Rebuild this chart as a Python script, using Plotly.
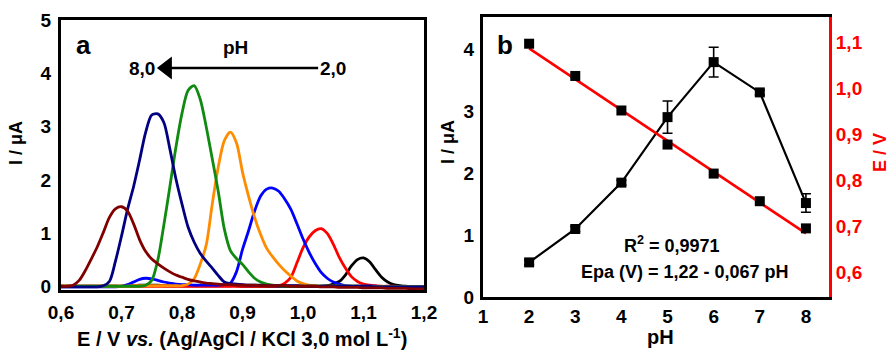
import plotly.graph_objects as go

# ---------------- Panel a: DPV curves ----------------
E_V = [0.60, 0.61, 0.62, 0.63, 0.64, 0.65, 0.66, 0.67, 0.68, 0.69,
       0.70, 0.71, 0.72, 0.73, 0.74, 0.75, 0.76, 0.77, 0.78, 0.79,
       0.80, 0.81, 0.82, 0.83, 0.84, 0.85, 0.86, 0.87, 0.88, 0.89,
       0.90, 0.91, 0.92, 0.93, 0.94, 0.95, 0.96, 0.97, 0.98, 0.99,
       1.00, 1.01, 1.02, 1.03, 1.04, 1.05, 1.06, 1.07, 1.08, 1.09,
       1.10, 1.11, 1.12, 1.13, 1.14, 1.15, 1.16, 1.17, 1.18, 1.19, 1.20]

I_pH2 = [0.01, 0.01, 0.01, 0.01, 0.01, 0.01, 0.01, 0.01, 0.01, 0.01,
         0.01, 0.02, 0.02, 0.03, 0.03, 0.03, 0.03, 0.02, 0.02, 0.02,
         0.02, 0.02, 0.02, 0.02, 0.02, 0.02, 0.02, 0.02, 0.02, 0.02,
         0.01, 0.01, 0.01, 0.01, 0.01, 0.01, 0.01, 0.01, 0.01, 0.01,
         0.01, 0.01, 0.01, 0.01, 0.02, 0.05, 0.10, 0.22, 0.39, 0.51,
         0.54, 0.47, 0.32, 0.18, 0.09, 0.04, 0.02, 0.01, 0.00, 0.00, 0.00]

I_pH3 = [0.01, 0.01, 0.01, 0.01, 0.01, 0.01, 0.01, 0.01, 0.01, 0.01,
         0.01, 0.01, 0.01, 0.01, 0.01, 0.01, 0.01, 0.01, 0.01, 0.01,
         0.01, 0.01, 0.01, 0.01, 0.01, 0.01, 0.01, 0.01, 0.01, 0.01,
         0.01, 0.01, 0.01, 0.01, 0.01, 0.01, 0.02, 0.07, 0.18, 0.45,
         0.73, 0.93, 1.05, 1.09, 1.00, 0.80, 0.55, 0.35, 0.19, 0.10,
         0.05, 0.03, 0.02, 0.01, 0.01, 0.01, 0.00, 0.00, 0.00, 0.00, 0.00]

I_pH4 = [0.00, 0.00, 0.00, 0.00, 0.00, 0.00, 0.00, 0.00, 0.00, 0.00,
         0.01, 0.04, 0.09, 0.14, 0.16, 0.15, 0.12, 0.09, 0.07, 0.05,
         0.04, 0.04, 0.03, 0.03, 0.03, 0.03, 0.03, 0.04, 0.07, 0.28,
         0.70, 1.05, 1.42, 1.70, 1.83, 1.85, 1.79, 1.64, 1.45, 1.18,
         0.90, 0.65, 0.44, 0.27, 0.16, 0.09, 0.05, 0.02, 0.01, 0.01,
         0.01, 0.01, 0.01, 0.00, 0.00, 0.00, 0.00, 0.00, 0.00, 0.00, 0.00]

I_pH5 = [0.01, 0.01, 0.01, 0.01, 0.01, 0.01, 0.01, 0.01, 0.01, 0.01,
         0.01, 0.01, 0.02, 0.02, 0.02, 0.02, 0.02, 0.02, 0.02, 0.02,
         0.02, 0.05, 0.15, 0.42, 0.78, 1.55, 2.25, 2.74, 2.90, 2.70,
         2.15, 1.70, 1.30, 0.98, 0.72, 0.56, 0.42, 0.30, 0.20, 0.11,
         0.06, 0.03, 0.02, 0.01, 0.01, 0.01, 0.01, 0.01, 0.01, 0.01,
         0.01, 0.00, 0.00, 0.00, 0.00, 0.00, 0.00, 0.00, 0.00, 0.00, 0.00]

I_pH6 = [0.01, 0.01, 0.01, 0.01, 0.01, 0.01, 0.01, 0.01, 0.01, 0.01,
         0.01, 0.01, 0.01, 0.01, 0.03, 0.12, 0.50, 1.16, 1.88, 2.62,
         3.25, 3.68, 3.77, 3.52, 3.00, 2.40, 1.78, 1.08, 0.68, 0.53,
         0.42, 0.28, 0.16, 0.09, 0.05, 0.03, 0.02, 0.01, 0.01, 0.01,
         0.01, 0.01, 0.01, 0.01, 0.01, 0.01, 0.01, 0.01, 0.01, 0.01,
         0.00, 0.00, 0.00, 0.00, 0.00, 0.00, 0.00, 0.00, 0.00, 0.00, 0.00]

I_pH7 = [0.00, 0.00, 0.00, 0.00, 0.00, 0.00, 0.00, 0.02, 0.10, 0.48,
         0.95, 1.45, 1.88, 2.38, 2.90, 3.22, 3.24, 3.08, 2.58, 2.02,
         1.55, 1.12, 0.84, 0.63, 0.48, 0.35, 0.21, 0.09, 0.06, 0.05,
         0.04, 0.03, 0.03, 0.03, 0.02, 0.02, 0.02, 0.02, 0.02, 0.02,
         0.01, 0.01, 0.01, 0.01, 0.01, 0.01, 0.01, 0.01, 0.01, 0.01,
         0.01, 0.01, 0.00, 0.00, 0.00, 0.00, 0.00, 0.00, 0.00, 0.00, 0.00]

I_pH8 = [0.01, 0.01, 0.03, 0.12, 0.30, 0.52, 0.75, 1.02, 1.30, 1.46,
         1.50, 1.42, 1.18, 0.88, 0.66, 0.52, 0.43, 0.35, 0.28, 0.22,
         0.18, 0.14, 0.11, 0.09, 0.07, 0.06, 0.05, 0.04, 0.04, 0.03,
         0.03, 0.03, 0.03, 0.02, 0.02, 0.02, 0.02, 0.02, 0.01, 0.01,
         0.01, 0.01, 0.01, 0.00, 0.00, 0.00, -0.01, -0.01, -0.01, -0.01,
         -0.02, -0.02, -0.02, -0.02, -0.03, -0.03, -0.03, -0.03, -0.04, -0.04, -0.04]

curve_names = ["pH 2,0", "pH 3,0", "pH 4,0", "pH 5,0", "pH 6,0", "pH 7,0", "pH 8,0"]
curve_colors = ["#000000", "#ff0000", "#0000ff", "#ff8c00", "#108a10", "#000080", "#800000"]

# pH arrow (panel a), in data units of panel a
arrow_E = [1.025, 0.775]
arrow_I = [4.10, 4.10]

# ---------------- Panel b ----------------
pH = [2, 3, 4, 5, 6, 7, 8]
Ipa = [0.56, 1.10, 1.85, 2.91, 3.80, 3.31, 1.52]
Ipa_err = [0.04, 0.04, 0.04, 0.26, 0.24, 0.04, 0.15]
Epa = [1.096, 1.026, 0.951, 0.877, 0.814, 0.754, 0.695]
fit_intercept = 1.22
fit_slope = -0.067
fit_pH = [2, 8]

xticks_a = [0.6, 0.7, 0.8, 0.9, 1.0, 1.1, 1.2]
yticks_a = [0, 1, 2, 3, 4, 5]
xticks_b = [1, 2, 3, 4, 5, 6, 7, 8]
yticks_b = [0, 1, 2, 3, 4]
y2ticks_b = [0.6, 0.7, 0.8, 0.9, 1.0, 1.1]

FONT = "Liberation Sans"
fig = go.Figure()

curves = [I_pH2, I_pH3, I_pH4, I_pH5, I_pH6, I_pH7, I_pH8]
for name, col, I in zip(curve_names, curve_colors, curves):
    fig.add_trace(go.Scatter(x=E_V, y=I, mode="lines", name=name,
                             line=dict(color=col, width=2.8, shape="spline", smoothing=0.8),
                             xaxis="x", yaxis="y", showlegend=False))

# arrow: shaft + head
fig.add_trace(go.Scatter(x=arrow_E, y=arrow_I, mode="lines",
                         line=dict(color="black", width=2.5),
                         xaxis="x", yaxis="y", showlegend=False, hoverinfo="skip"))
fig.add_trace(go.Scatter(x=[arrow_E[1]], y=[arrow_I[1]], mode="markers",
                         marker=dict(symbol="triangle-left", size=20, color="black"),
                         xaxis="x", yaxis="y", showlegend=False, hoverinfo="skip"))

# panel b
fig.add_trace(go.Scatter(x=pH, y=Ipa, mode="lines+markers",
                         line=dict(color="black", width=2.2),
                         marker=dict(symbol="square", size=10, color="black"),
                         error_y=dict(type="data", array=Ipa_err, color="black", thickness=1.6, width=5),
                         xaxis="x2", yaxis="y3", showlegend=False))
fit_E = [fit_intercept + fit_slope * p for p in fit_pH]
fig.add_trace(go.Scatter(x=fit_pH, y=fit_E, mode="lines",
                         line=dict(color="#ff0000", width=2.6),
                         xaxis="x2", yaxis="y4", showlegend=False))
fig.add_trace(go.Scatter(x=pH, y=Epa, mode="markers",
                         marker=dict(symbol="square", size=10, color="black"),
                         xaxis="x2", yaxis="y4", showlegend=False))

TS = 19
tickfont = dict(family=FONT, size=TS, color="black", weight="bold")
axis_common = dict(showgrid=False, zeroline=False, showline=True, linecolor="black",
                   linewidth=3, ticks="", tickfont=tickfont, automargin=False)

W, H = 891, 350
def px(x):
    return x / W
def py(y):
    return 1 - y / H

fig.update_layout(
    width=W, height=H,
    margin=dict(l=0, r=0, t=0, b=0, autoexpand=False),
    paper_bgcolor="white", plot_bgcolor="white",
    separators=",.",
    font=dict(family=FONT, color="black"),
    xaxis=dict(domain=[px(61), px(424)], range=[0.6, 1.2], tickvals=xticks_a,
               tickformat=".1f", mirror=True, anchor="y", ticklabelstandoff=3, **axis_common),
    yaxis=dict(domain=[py(290), py(20)], range=[-0.06, 5.0], tickvals=yticks_a,
               mirror=True, anchor="x", ticklabelstandoff=3, **axis_common),
    xaxis2=dict(domain=[px(483), px(829)], range=[1, 8.5], tickvals=xticks_b,
                mirror=True, anchor="y3", **axis_common),
    yaxis3=dict(domain=[py(297), py(17)], range=[0, 4.53], tickvals=yticks_b,
                anchor="x2", ticklabelstandoff=2, **axis_common),
    yaxis4=dict(domain=[py(297), py(17)], range=[0.546, 1.154], tickvals=y2ticks_b,
                tickformat=".1f", overlaying="y3", side="right", anchor="x2",
                showgrid=False, zeroline=False, showline=True, linecolor="#ff0000",
                linewidth=3, ticks="", automargin=False,
                tickfont=dict(family=FONT, size=TS, color="#ff0000", weight="bold")),
)

ann = []
def text(x, y, s, size=18, color="black", angle=0, xanchor="center"):
    ann.append(dict(x=px(x), y=py(y), xref="paper", yref="paper", text="<b>" + s + "</b>",
                    showarrow=False, font=dict(family=FONT, size=size, color=color),
                    textangle=angle, xanchor=xanchor, yanchor="middle"))

text(242, 337, "E / V <i>vs.</i> (Ag/AgCl / KCl 3,0 mol L<sup>-1</sup>)", size=20)
text(16, 143, "I / μA", size=18, angle=-90)
text(660, 337, "pH", size=20)
text(448, 142, "I / μA", size=18, angle=-90)
text(880, 153, "E / V", size=18, color="#ff0000", angle=-90)
text(83, 45, "a", size=26)
text(505, 45, "b", size=26)
text(235, 47, "pH", size=19)
text(142, 68, "8,0", size=19)
text(333, 68, "2,0", size=19)
text(672, 245, "R<sup>2</sup> = 0,9971", size=18)
text(685, 272, "Epa (V) = 1,22 - 0,067 pH", size=18)

fig.update_layout(annotations=ann)
fig.write_html("out.html")
